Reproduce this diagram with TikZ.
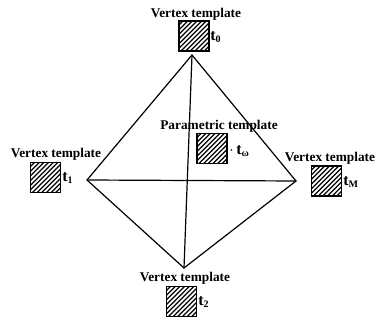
\documentclass[tikz,border=0pt]{standalone}
\usepackage{fontspec}
\setmainfont{Liberation Serif}
\newcommand{\tsub}[1]{t\raisebox{-0.35ex}{\fontsize{7.5}{8}\selectfont #1}}
\begin{document}
\begin{tikzpicture}[x=0.75pt,y=-0.75pt,
  tmpl/.style={draw, line width=1.1pt, minimum size=22.5pt, inner sep=0pt,
    path picture={\foreach \k in {-30,-26.5,...,24}
      \draw[line width=0.9pt] ([xshift=\k pt]path picture bounding box.south west) -- ++(32pt,32pt);}},
  lbl/.style={font=\bfseries\fontsize{10}{11}\selectfont, inner sep=0pt},
  tname/.style={font=\bfseries\fontsize{12}{13}\selectfont, inner sep=0pt, anchor=west}]
\useasboundingbox (0,0) rectangle (376,320);

% diamond
\coordinate (v0) at (192,55);
\coordinate (v1) at (87,180);
\coordinate (vM) at (296,181);
\coordinate (v2) at (184,268);
\draw [line width=0.9pt] (v0) -- (v1) -- (v2) -- (vM) -- cycle;
\draw [line width=0.9pt] (v1) -- (vM);
\draw [line width=0.9pt] (v0) -- (v2);

% templates
\node[tmpl] (s0) at (194,36) {};
\node[tmpl] (s1) at (45.5,177.5) {};
\node[tmpl] (sM) at (326.5,181) {};
\node[tmpl] (s2) at (181.5,301.5) {};
\node[tmpl] (sw) at (212,148.5) {};

\node[lbl] (l0) at (196,14) {Vertex template};
\node[lbl] (l1) at (56,154) {Vertex template};
\node[lbl] (lM) at (330,158) {Vertex template};
\node[lbl] (l2) at (185,278) {Vertex template};
\node[lbl] (lw) at (219,126) {Parametric template};

\node[tname] (t0) at (210,37) {\tsub{0}};
\node[tname] (t1) at (62,178) {\tsub{1}};
\node[tname] (tM) at (343,182) {\tsub{M}};
\node[tname] (t2) at (198,302) {\tsub{2}};
\node[tname] (tw) at (229,151) {$\cdot$\,\tsub{ω}};

\end{tikzpicture}
\end{document}
